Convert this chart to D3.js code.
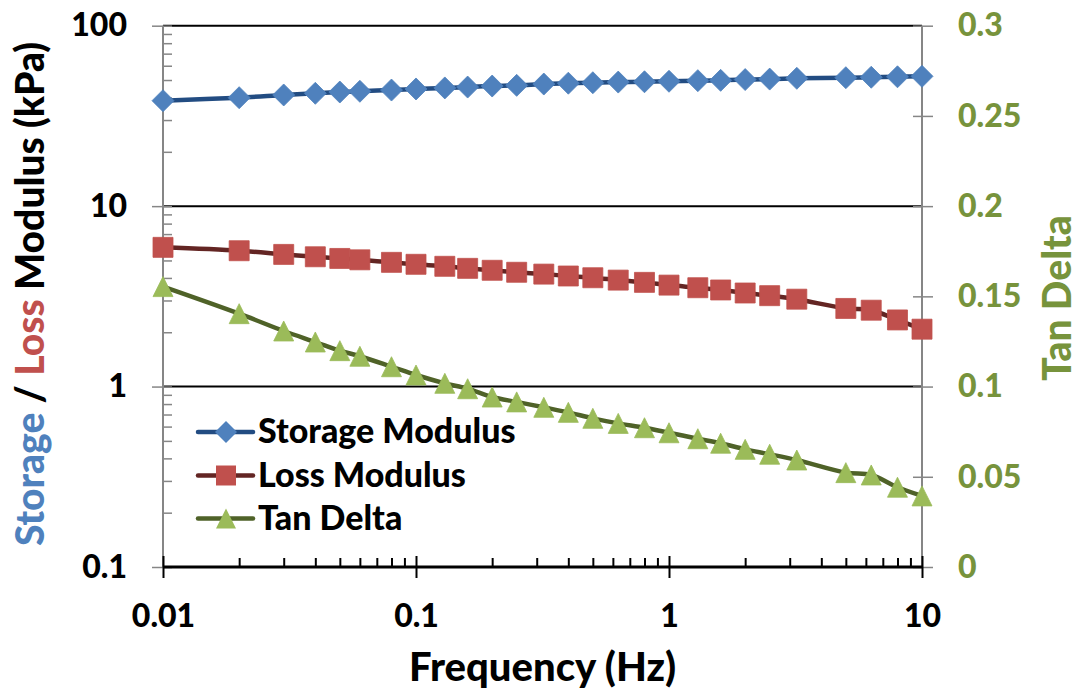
<!DOCTYPE html>
<html><head><meta charset="utf-8">
<script src="https://cdn.jsdelivr.net/npm/d3@7"></script>
<style>
html,body{margin:0;padding:0;background:#fff;}
svg text{font-family:Lato,"Open Sans",sans-serif;font-weight:900;}
</style></head>
<body>
<svg id="chart" width="1078" height="694"></svg>
<script>
const freq = [0.01,0.02,0.03,0.04,0.05,0.06,0.08,0.1,0.13,0.16,0.2,0.25,0.32,0.4,0.5,0.63,0.8,1,1.3,1.6,2,2.5,3.2,5,6.3,8,10];
const storage = [38.4,39.9,41.3,42.2,42.9,43.3,44.0,44.6,45.2,45.7,46.3,46.7,47.5,48.0,48.3,48.7,48.9,49.2,49.6,49.8,50.3,50.6,51.1,51.5,51.8,52.1,52.4];
const loss = [5.91,5.66,5.40,5.24,5.13,5.04,4.88,4.76,4.64,4.52,4.41,4.30,4.20,4.10,4.01,3.89,3.78,3.65,3.53,3.43,3.30,3.19,3.05,2.71,2.65,2.34,2.08];
const tanDelta = [0.1554,0.1404,0.1308,0.1247,0.1199,0.1168,0.1110,0.1064,0.1018,0.0988,0.0942,0.0915,0.0885,0.0857,0.0824,0.0796,0.0772,0.0744,0.0711,0.0686,0.0652,0.0625,0.0593,0.0523,0.0510,0.0442,0.0394];
const xTicks = [0.01,0.1,1,10];
const xTickLabels = ["0.01","0.1","1","10"];
const yLeftTicks = [0.1,1,10,100];
const yLeftTickLabels = ["0.1","1","10","100"];
const yRightTicks = [0,0.05,0.1,0.15,0.2,0.25,0.3];
const yRightTickLabels = ["0","0.05","0.1","0.15","0.2","0.25","0.3"];
const seriesNames = ["Storage Modulus","Loss Modulus","Tan Delta"];

const svg = d3.select("#chart");
const L = 163, R = 922, T = 25.7, B = 567;
const x = d3.scaleLog().domain([0.01,10]).range([L,R]);
const yL = d3.scaleLog().domain([0.1,100]).range([B,T]);
const yR = d3.scaleLinear().domain([0,0.3]).range([B,T]);
const FW = 900;

function minorLog(lo, hi){
  const out=[];
  for(let d=lo; d<hi*0.999; d*=10){ for(let k=2;k<=9;k++) out.push(+(d*k).toPrecision(3)); }
  return out;
}

// gridlines
svg.append("g").selectAll("line").data(yLeftTicks.filter(v=>v>0.1)).join("line")
  .attr("x1",L).attr("x2",R).attr("y1",d=>yL(d)).attr("y2",d=>yL(d))
  .attr("stroke","#000").attr("stroke-width",2);

const gray = "#868686";
function styleAxis(g, color, w){
  g.select(".domain").remove();
  g.selectAll(".tick line").attr("stroke",color).attr("stroke-width",w);
}
function styleText(g, color, size){
  g.selectAll("text").attr("fill",color).attr("font-size",size).attr("font-family","Lato").attr("font-weight",FW);
}
// left axis
const gl = svg.append("g").attr("transform",`translate(${L},0)`);
gl.append("g").call(d3.axisRight(yL).tickValues(minorLog(0.1,100).concat(yLeftTicks)).tickSize(9).tickFormat(""))
  .call(g=>styleAxis(g,gray,1.5));
gl.append("g").call(d3.axisLeft(yL).tickValues(yLeftTicks).tickSize(11).tickPadding(25).tickFormat((d,i)=>yLeftTickLabels[i]))
  .call(g=>styleAxis(g,gray,1.5))
  .call(g=>styleText(g,"#000",32));
gl.append("line").attr("y1",T).attr("y2",B).attr("stroke",gray).attr("stroke-width",2);

// right axis
const gr = svg.append("g").attr("transform",`translate(${R},0)`);
gr.append("g").call(d3.axisLeft(yR).tickValues(yRightTicks).tickSize(9).tickFormat(""))
  .call(g=>styleAxis(g,gray,1.5));
gr.append("g").call(d3.axisRight(yR).tickValues(yRightTicks).tickSize(11).tickPadding(25).tickFormat((d,i)=>yRightTickLabels[i]))
  .call(g=>styleAxis(g,gray,1.5))
  .call(g=>styleText(g,"#77933C",32));
gr.append("line").attr("y1",T).attr("y2",B).attr("stroke",gray).attr("stroke-width",2);

// bottom axis
const gb = svg.append("g").attr("transform",`translate(0,${B})`);
gb.append("g").call(d3.axisTop(x).tickValues(minorLog(0.01,10)).tickSize(9).tickFormat(""))
  .call(g=>styleAxis(g,"#000",2));
gb.append("g").call(d3.axisBottom(x).tickValues(xTicks).tickSize(11).tickFormat((d,i)=>xTickLabels[i]))
  .call(g=>styleAxis(g,"#000",2))
  .call(g=>styleText(g,"#000",32))
  .call(g=>g.selectAll("text").attr("y",60).attr("dy",0));
gb.append("g").call(d3.axisTop(x).tickValues(xTicks).tickSize(11).tickFormat(""))
  .call(g=>styleAxis(g,"#000",2));
gb.append("line").attr("x1",L).attr("x2",R).attr("stroke","#000").attr("stroke-width",3);

// symbols
const diamond = {draw(ctx,size){const r=Math.sqrt(size)/2; ctx.moveTo(0,-r);ctx.lineTo(r,0);ctx.lineTo(0,r);ctx.lineTo(-r,0);ctx.closePath();}};
const square = {draw(ctx,size){const r=Math.sqrt(size)/2; ctx.rect(-r,-r,2*r,2*r);}};
const triangle = {draw(ctx,size){const r=Math.sqrt(size)/2; ctx.moveTo(0,-r);ctx.lineTo(r,r);ctx.lineTo(-r,r);ctx.closePath();}};

const series = [
  {name:seriesNames[0], vals:storage, y:yL, line:"#224C82", fill:"#4F81BD", sym:diamond, size:22*22},
  {name:seriesNames[1], vals:loss, y:yL, line:"#632523", fill:"#C0504D", sym:square, size:20*20},
  {name:seriesNames[2], vals:tanDelta, y:yR, line:"#4F6228", fill:"#9BBB59", sym:triangle, size:20*20}
];

series.forEach(s=>{
  const pts = freq.map((f,i)=>[x(f), s.y(s.vals[i])]);
  svg.append("path").attr("d", d3.line().curve(d3.curveCatmullRom.alpha(0.5))(pts))
    .attr("fill","none").attr("stroke",s.line).attr("stroke-width",4.5).attr("stroke-linejoin","round");
  svg.append("g").selectAll("path").data(pts).join("path")
    .attr("transform",d=>`translate(${d[0]},${d[1]})`)
    .attr("d", d3.symbol().type(s.sym).size(s.size)())
    .attr("fill",s.fill).attr("stroke",s.fill).attr("stroke-width",0.8);
});

// legend
const leg = svg.append("g");
const legY = [432, 475.5, 518.5];
series.forEach((s,i)=>{
  const g = leg.append("g").attr("transform",`translate(0,${legY[i]})`);
  g.append("line").attr("x1",198).attr("x2",253).attr("stroke",s.line).attr("stroke-width",4.5).attr("stroke-linecap","round");
  g.append("path").attr("transform","translate(226,0)").attr("d",d3.symbol().type(s.sym).size(s.size)()).attr("fill",s.fill);
  g.append("text").attr("x",258).attr("y",11).attr("font-size",34).attr("fill","#000").text(s.name);
});

// axis titles
svg.append("text").attr("x",(L+R)/2).attr("y",681).attr("text-anchor","middle").attr("font-size",40).attr("fill","#000").text("Frequency (Hz)");
const lt = svg.append("text").attr("transform","translate(44,294) rotate(-90)").attr("text-anchor","middle").attr("font-size",39);
lt.append("tspan").attr("fill","#4F81BD").text("Storage");
lt.append("tspan").attr("fill","#000").text(" / ");
lt.append("tspan").attr("fill","#C0504D").text("Loss");
lt.append("tspan").attr("fill","#000").text(" Modulus (kPa)");
svg.append("text").attr("transform","translate(1071,298) rotate(-90)").attr("text-anchor","middle").attr("font-size",39).attr("fill","#77933C").text("Tan Delta");
</script>
</body></html>
